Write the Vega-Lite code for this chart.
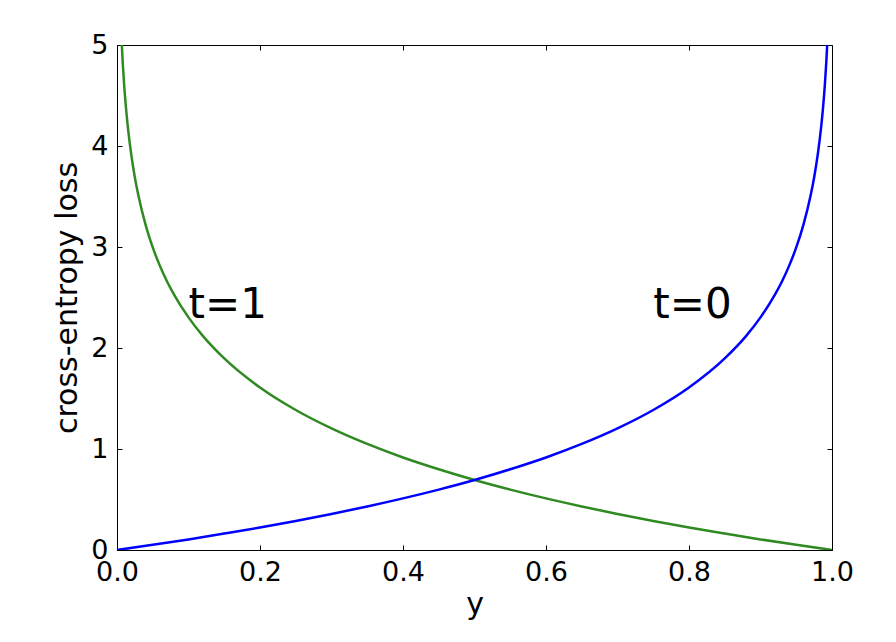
{
  "$schema": "https://vega.github.io/schema/vega-lite/v6.json",
  "width": 715,
  "height": 505,
  "autosize": {"type": "none"},
  "padding": {"left": 117, "top": 45, "right": 64, "bottom": 92},
  "background": "white",
  "config": {
    "view": {"stroke": "black", "strokeWidth": 1},
    "font": "DejaVu Sans",
    "axis": {
      "grid": false,
      "domainColor": "black",
      "tickColor": "black",
      "tickSize": -5,
      "labelFont": "DejaVu Sans",
      "labelFontSize": 27,
      "labelColor": "black",
      "titleFont": "DejaVu Sans",
      "titleFontSize": 30,
      "titleFontWeight": "normal",
      "titleColor": "black"
    }
  },
  "datasets": {
    "curves": [
      {"p": 0.00674, "loss": 5.0, "t": "1"},
      {"p": 0.008, "loss": 4.828, "t": "1"},
      {"p": 0.01, "loss": 4.605, "t": "1"},
      {"p": 0.0125, "loss": 4.382, "t": "1"},
      {"p": 0.015, "loss": 4.2, "t": "1"},
      {"p": 0.02, "loss": 3.912, "t": "1"},
      {"p": 0.025, "loss": 3.689, "t": "1"},
      {"p": 0.03, "loss": 3.507, "t": "1"},
      {"p": 0.04, "loss": 3.219, "t": "1"},
      {"p": 0.05, "loss": 2.996, "t": "1"},
      {"p": 0.06, "loss": 2.813, "t": "1"},
      {"p": 0.07, "loss": 2.659, "t": "1"},
      {"p": 0.08, "loss": 2.526, "t": "1"},
      {"p": 0.1, "loss": 2.303, "t": "1"},
      {"p": 0.12, "loss": 2.12, "t": "1"},
      {"p": 0.15, "loss": 1.897, "t": "1"},
      {"p": 0.2, "loss": 1.609, "t": "1"},
      {"p": 0.25, "loss": 1.386, "t": "1"},
      {"p": 0.3, "loss": 1.204, "t": "1"},
      {"p": 0.35, "loss": 1.05, "t": "1"},
      {"p": 0.4, "loss": 0.916, "t": "1"},
      {"p": 0.45, "loss": 0.799, "t": "1"},
      {"p": 0.5, "loss": 0.693, "t": "1"},
      {"p": 0.55, "loss": 0.598, "t": "1"},
      {"p": 0.6, "loss": 0.511, "t": "1"},
      {"p": 0.65, "loss": 0.431, "t": "1"},
      {"p": 0.7, "loss": 0.357, "t": "1"},
      {"p": 0.75, "loss": 0.288, "t": "1"},
      {"p": 0.8, "loss": 0.223, "t": "1"},
      {"p": 0.85, "loss": 0.163, "t": "1"},
      {"p": 0.9, "loss": 0.105, "t": "1"},
      {"p": 0.95, "loss": 0.051, "t": "1"},
      {"p": 1.0, "loss": 0.0, "t": "1"},
      {"p": 0.0, "loss": 0.0, "t": "0"},
      {"p": 0.05, "loss": 0.051, "t": "0"},
      {"p": 0.1, "loss": 0.105, "t": "0"},
      {"p": 0.15, "loss": 0.163, "t": "0"},
      {"p": 0.2, "loss": 0.223, "t": "0"},
      {"p": 0.25, "loss": 0.288, "t": "0"},
      {"p": 0.3, "loss": 0.357, "t": "0"},
      {"p": 0.35, "loss": 0.431, "t": "0"},
      {"p": 0.4, "loss": 0.511, "t": "0"},
      {"p": 0.45, "loss": 0.598, "t": "0"},
      {"p": 0.5, "loss": 0.693, "t": "0"},
      {"p": 0.55, "loss": 0.799, "t": "0"},
      {"p": 0.6, "loss": 0.916, "t": "0"},
      {"p": 0.65, "loss": 1.05, "t": "0"},
      {"p": 0.7, "loss": 1.204, "t": "0"},
      {"p": 0.75, "loss": 1.386, "t": "0"},
      {"p": 0.8, "loss": 1.609, "t": "0"},
      {"p": 0.85, "loss": 1.897, "t": "0"},
      {"p": 0.88, "loss": 2.12, "t": "0"},
      {"p": 0.9, "loss": 2.303, "t": "0"},
      {"p": 0.92, "loss": 2.526, "t": "0"},
      {"p": 0.93, "loss": 2.659, "t": "0"},
      {"p": 0.94, "loss": 2.813, "t": "0"},
      {"p": 0.95, "loss": 2.996, "t": "0"},
      {"p": 0.96, "loss": 3.219, "t": "0"},
      {"p": 0.97, "loss": 3.507, "t": "0"},
      {"p": 0.975, "loss": 3.689, "t": "0"},
      {"p": 0.98, "loss": 3.912, "t": "0"},
      {"p": 0.985, "loss": 4.2, "t": "0"},
      {"p": 0.9875, "loss": 4.382, "t": "0"},
      {"p": 0.99, "loss": 4.605, "t": "0"},
      {"p": 0.992, "loss": 4.828, "t": "0"},
      {"p": 0.99326, "loss": 5.0, "t": "0"}
    ],
    "labels": [
      {"p": 0.1, "loss": 2.3, "label": "t=1"},
      {"p": 0.75, "loss": 2.3, "label": "t=0"}
    ]
  },
  "layer": [
    {
      "data": {"name": "curves"},
      "mark": {"type": "line", "strokeWidth": 2.5, "clip": true, "interpolate": "monotone"},
      "encoding": {
        "x": {
          "field": "p", "type": "quantitative",
          "scale": {"domain": [0, 1], "nice": false, "zero": false},
          "axis": {"orient": "bottom", "title": "y", "values": [0, 0.2, 0.4, 0.6, 0.8, 1.0], "format": ".1f", "labelPadding": 14, "titlePadding": 4, "labelFlush": false}
        },
        "y": {
          "field": "loss", "type": "quantitative",
          "scale": {"domain": [0, 5], "nice": false},
          "axis": {"orient": "left", "title": "cross-entropy loss", "values": [0, 1, 2, 3, 4, 5], "labelPadding": 14, "titlePadding": 8, "labelFlush": false}
        },
        "color": {
          "field": "t", "type": "nominal",
          "scale": {"domain": ["1", "0"], "range": ["#2f8a22", "#0000ff"]},
          "legend": null
        }
      }
    },
    {
      "data": {"name": "labels"},
      "mark": {"type": "text", "align": "left", "baseline": "alphabetic", "fontSize": 42, "font": "DejaVu Sans", "color": "black"},
      "encoding": {
        "x": {
          "field": "p", "type": "quantitative",
          "axis": {"orient": "top", "title": null, "labels": false, "domain": false, "values": [0, 0.2, 0.4, 0.6, 0.8, 1.0]}
        },
        "y": {
          "field": "loss", "type": "quantitative",
          "axis": {"orient": "right", "title": null, "labels": false, "domain": false, "values": [0, 1, 2, 3, 4, 5]}
        },
        "text": {"field": "label"}
      }
    }
  ],
  "resolve": {"axis": {"x": "independent", "y": "independent"}}
}
